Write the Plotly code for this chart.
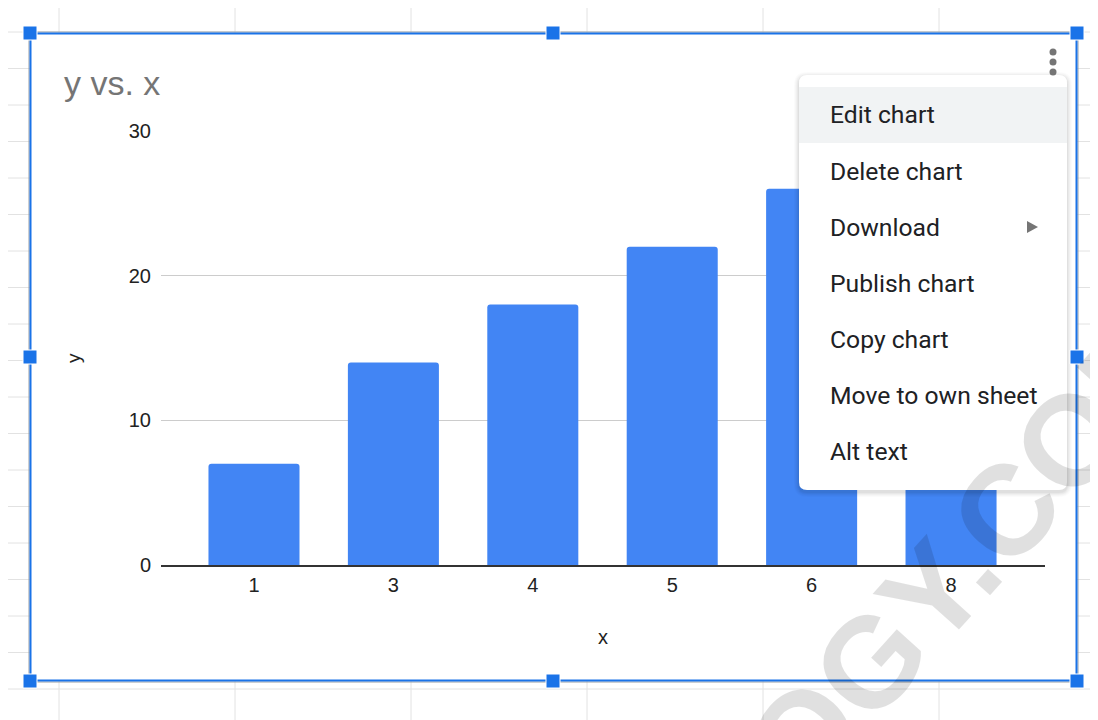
import plotly.graph_objects as go

# ---- data ----
categories = ["1", "3", "4", "5", "6", "8"]
y_values = [7, 14, 18, 22, 26, 29]
y_ticks = [0, 10, 20, 30]
menu_items = ["Edit chart", "Delete chart", "Download", "Publish chart",
              "Copy chart", "Move to own sheet", "Alt text"]

# page body has an 8px default margin; figure is shrunk so the page still fits
OFF = 8
FW, FH = 1098 - OFF, 720 - OFF
L, R, T, B = 161, 1045, 131, 565   # plot area, page pixel coords
W, H = R - L, B - T


def px(x):
    return (x - L) / W


def py(y):
    return (B - y) / H


def rect(x0, y0, x1, y1, fill, line=None, lw=0, layer="above"):
    return dict(type="rect", xref="paper", yref="paper",
                x0=px(x0), x1=px(x1), y0=py(y1), y1=py(y0),
                fillcolor=fill, line=dict(color=line or fill, width=lw),
                layer=layer)


def line(x0, y0, x1, y1, color, w=1, layer="above"):
    return dict(type="line", xref="paper", yref="paper",
                x0=px(x0), x1=px(x1), y0=py(y0), y1=py(y1),
                line=dict(color=color, width=w), layer=layer)


def rrect_path(x0, y0, x1, y1, r):
    pts = [
        ("M", [(x0 + r, y0)]),
        ("L", [(x1 - r, y0)]),
        ("Q", [(x1, y0), (x1, y0 + r)]),
        ("L", [(x1, y1 - r)]),
        ("Q", [(x1, y1), (x1 - r, y1)]),
        ("L", [(x0 + r, y1)]),
        ("Q", [(x0, y1), (x0, y1 - r)]),
        ("L", [(x0, y0 + r)]),
        ("Q", [(x0, y0), (x0 + r, y0)]),
    ]
    s = ""
    for cmd, ps in pts:
        s += cmd + " ".join(f"{px(a):.6f},{py(b):.6f}" for a, b in ps) + " "
    return s + "Z"


shapes = []
# spreadsheet grid
for k in range(0, 20):
    yy = 32 + 36.5 * k
    shapes.append(line(0, yy, 1100, yy, "#e2e2e2", 1, "below"))
for xx in [59, 235, 411, 587, 763, 939]:
    shapes.append(line(xx, 0, xx, 722, "#e2e2e2", 1, "below"))
# chart interior
shapes.append(rect(30, 33, 1077, 681, "white", layer="below"))

# menu shadow + box
for i, a in enumerate([0.035, 0.03, 0.025, 0.02, 0.015]):
    e = i + 1
    shapes.append(dict(type="path", xref="paper", yref="paper",
                       path=rrect_path(799 - e, 75 - e + 2, 1067 + e, 490 + e + 2, 8 + e),
                       fillcolor=f"rgba(0,0,0,{a})", line=dict(width=0), layer="above"))
shapes.append(dict(type="path", xref="paper", yref="paper",
                   path=rrect_path(799, 75, 1067, 490, 8),
                   fillcolor="white", line=dict(width=0), layer="above"))
shapes.append(rect(799, 87, 1067, 143, "#f1f3f4"))
# submenu triangle
shapes.append(dict(type="path", xref="paper", yref="paper",
                   path=f"M{px(1027):.6f},{py(221):.6f} L{px(1038):.6f},{py(227):.6f} L{px(1027):.6f},{py(233):.6f} Z",
                   fillcolor="#757575", line=dict(width=0), layer="above"))
# three dots
for dy in [52, 62, 72]:
    shapes.append(dict(type="circle", xref="paper", yref="paper",
                       x0=px(1049.5), x1=px(1056.5), y0=py(dy + 3.5), y1=py(dy - 3.5),
                       fillcolor="#757575", line=dict(width=0), layer="above"))

# selection frame
shapes.append(dict(type="rect", xref="paper", yref="paper",
                   x0=px(29), x1=px(1078), y0=py(682), y1=py(32),
                   fillcolor="rgba(0,0,0,0)", line=dict(color="#9aa0a6", width=1), layer="above"))
shapes.append(dict(type="rect", xref="paper", yref="paper",
                   x0=px(30.5), x1=px(1076.5), y0=py(680.5), y1=py(33.5),
                   fillcolor="rgba(0,0,0,0)", line=dict(color="#1a73e8", width=2), layer="above"))
for hx, hy in [(30, 33), (553, 33), (1077, 33), (30, 357), (1077, 357),
               (30, 681), (553, 681), (1077, 681)]:
    shapes.append(rect(hx - 7, hy - 7, hx + 7, hy + 7, "#1a73e8", "white", 1))

annotations = []
annotations.append(dict(xref="paper", yref="paper", x=px(62), y=py(83),
                        text="y vs. x", showarrow=False, xanchor="left", yanchor="middle",
                        font=dict(family="Liberation Sans", size=34, color="#757575")))
annotations.append(dict(xref="paper", yref="paper", x=px(73), y=py(358),
                        text="y", showarrow=False, xanchor="center", yanchor="middle",
                        textangle=-90,
                        font=dict(family="Liberation Sans", size=19, color="#222222")))
annotations.append(dict(xref="paper", yref="paper", x=px(603), y=py(637),
                        text="x", showarrow=False, xanchor="center", yanchor="middle",
                        font=dict(family="Liberation Sans", size=20, color="#222222")))
for i, item in enumerate(menu_items):
    annotations.append(dict(xref="paper", yref="paper", x=px(828), y=py(115 + 56 * i),
                            text=item, showarrow=False, xanchor="left", yanchor="middle",
                            font=dict(family="Roboto", size=24.7, color="#202124")))
# watermark
annotations.append(dict(xref="paper", yref="paper", x=px(972), y=py(548),
                        text="<b>OGY.COM</b>", showarrow=False, xanchor="center", yanchor="middle",
                        textangle=-48,
                        font=dict(family="Liberation Sans", size=128, color="rgba(0,0,0,0.12)")))

fig = go.Figure(go.Bar(
    x=categories, y=y_values,
    marker=dict(color="#4285f4", cornerradius=3, line=dict(width=0)),
    hoverinfo="skip",
))

fig.update_layout(
    width=FW, height=FH, autosize=False,
    margin=dict(l=L - OFF, r=FW - (R - OFF), t=T - OFF, b=FH - (B - OFF), pad=0),
    paper_bgcolor="white", plot_bgcolor="rgba(0,0,0,0)",
    showlegend=False, bargap=0.347,
    shapes=shapes, annotations=annotations,
    font=dict(family="Liberation Sans", color="#222222"),
)
fig.update_xaxes(type="category", range=[-0.667, 5.674], showgrid=False,
                 showline=True, linecolor="#333333", linewidth=1.5,
                 ticks="outside", ticklen=1, tickcolor="rgba(0,0,0,0)",
                 tickfont=dict(family="Liberation Sans", size=20, color="#222222"),
                 fixedrange=True, zeroline=False)
fig.update_yaxes(range=[0, 30], tickvals=y_ticks, showgrid=True, gridcolor="#cccccc",
                 gridwidth=1, zeroline=False, showline=False,
                 ticks="outside", ticklen=5, tickcolor="rgba(0,0,0,0)",
                 tickfont=dict(family="Liberation Sans", size=20, color="#222222"),
                 fixedrange=True)

fig.write_html("out.html", config={"displayModeBar": False})
